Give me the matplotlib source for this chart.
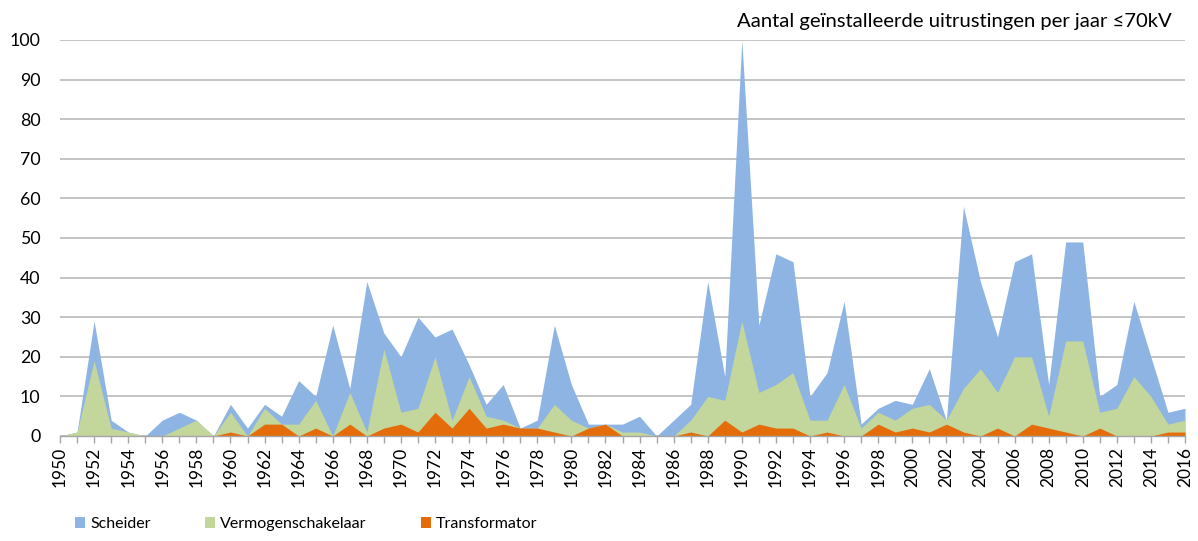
import matplotlib
matplotlib.use("Agg")
import matplotlib.pyplot as plt
from matplotlib.ticker import MultipleLocator
from matplotlib.patches import Patch

plt.rcParams['font.family'] = ['Lato', 'DejaVu Sans']

years = list(range(1950, 2017))

scheider = [0, 1, 29, 4, 1, 0, 4, 6, 4, 0,
            8, 2, 8, 5, 14, 10, 28, 12, 39, 26,
            20, 30, 25, 27, 18, 8, 13, 2, 4, 28,
            13, 3, 3, 3, 5, 0, 4, 8, 39, 15,
            100, 28, 46, 44, 10, 16, 34, 3, 7, 9,
            8, 17, 4, 58, 39, 25, 44, 46, 13, 49,
            49, 10, 13, 34, 20, 6, 7]

vermogenschakelaar = [0, 1, 19, 2, 1, 0, 0, 2, 4, 0,
                      6, 0, 7, 3, 3, 9, 0, 11, 1, 22,
                      6, 7, 20, 4, 15, 5, 4, 2, 2, 8,
                      4, 2, 3, 1, 1, 0, 0, 4, 10, 9,
                      29, 11, 13, 16, 4, 4, 13, 2, 6, 4,
                      7, 8, 4, 12, 17, 11, 20, 20, 5, 24,
                      24, 6, 7, 15, 10, 3, 4]

transformator = [0, 0, 0, 0, 0, 0, 0, 0, 0, 0,
                 1, 0, 3, 3, 0, 2, 0, 3, 0, 2,
                 3, 1, 6, 2, 7, 2, 3, 2, 2, 1,
                 0, 2, 3, 0, 0, 0, 0, 1, 0, 4,
                 1, 3, 2, 2, 0, 1, 0, 0, 3, 1,
                 2, 1, 3, 1, 0, 2, 0, 3, 2, 1,
                 0, 2, 0, 0, 0, 1, 1]

series_names = ["Scheider", "Vermogenschakelaar", "Transformator"]
colors = ["#8EB4E3", "#C3D69B", "#E46C0A"]
title = "Aantal geïnstalleerde uitrustingen per jaar \u226470kV"

W, H = 1198, 541
fig = plt.figure(figsize=(W / 100, H / 100), dpi=100)
ax = fig.add_axes([60 / W, (H - 436) / H, (1185 - 60) / W, (436 - 40) / H])

for vals, c in zip([scheider, vermogenschakelaar, transformator], colors):
    ax.fill_between(years, 0, vals, color=c, lw=0, zorder=2)

ax.set_xlim(1950, 2016)
ax.set_ylim(0, 100)
ax.set_axisbelow(True)
ax.yaxis.set_major_locator(MultipleLocator(10))
ax.grid(axis='y', color='#BFBFBF', lw=1.3)
ax.xaxis.set_major_locator(MultipleLocator(2))
ax.xaxis.set_minor_locator(MultipleLocator(1))
ax.tick_params(axis='x', which='both', direction='out', length=5, width=1,
               color='#A6A6A6', labelrotation=90, labelsize=12.5, pad=3,
               labelcolor='#000000')
ax.tick_params(axis='y', length=0, labelsize=12.8, pad=14, labelcolor='#000000')
for s in ['top', 'right', 'left']:
    ax.spines[s].set_visible(False)
ax.spines['bottom'].set_color('#A6A6A6')
ax.spines['bottom'].set_linewidth(1)
ax.spines['bottom'].set_zorder(3)

fig.text(1172 / W, (H - 27) / H, title, ha='right', va='baseline', fontsize=14.6)

handles = [Patch(facecolor=c, edgecolor='none') for c in colors]
fig.legend(handles, series_names, loc='center left',
           bbox_to_anchor=(75 / W, (H - 524) / H), ncol=3, frameon=False,
           fontsize=11.5, handlelength=0.65, handleheight=0.65, handletextpad=0.3,
           columnspacing=3.4, borderaxespad=0, borderpad=0)

fig.savefig("out.png", dpi=100)
